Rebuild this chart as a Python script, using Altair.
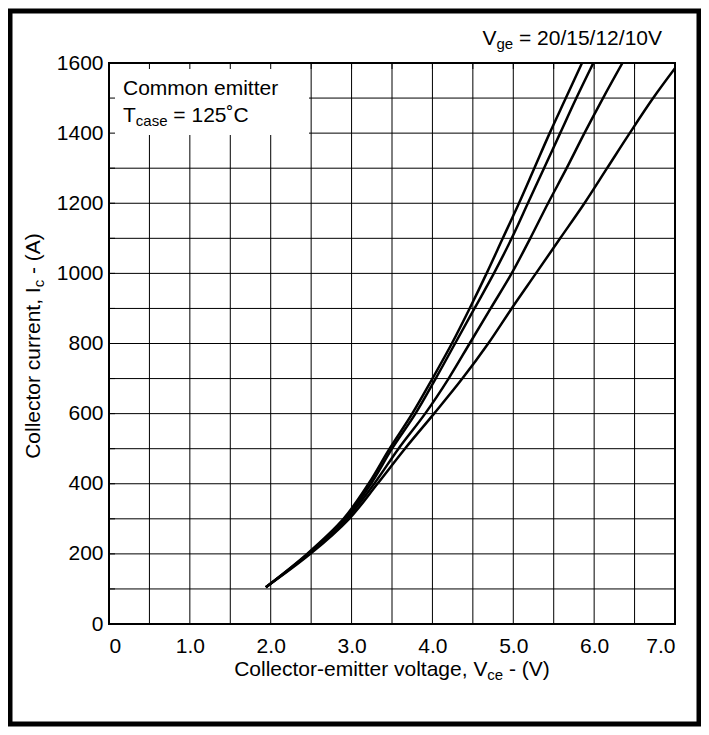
import altair as alt
import pandas as pd

# ---------------- data ----------------
series_names = ["20V", "15V", "12V", "10V"]
current_a = [105, 200, 300, 400, 500, 600, 700, 800, 900, 1000, 1100, 1200, 1300, 1400, 1500, 1600]
current_10 = [105, 200, 300, 400, 500, 600, 700, 800, 900, 1000, 1100, 1200, 1300, 1400, 1500, 1585]
vce_20 = [1.94, 2.45, 2.90, 3.21, 3.47, 3.75, 4.00, 4.24, 4.46, 4.67, 4.87, 5.07, 5.26, 5.45, 5.65, 5.85]
vce_15 = [1.94, 2.46, 2.92, 3.24, 3.50, 3.79, 4.04, 4.28, 4.52, 4.76, 4.98, 5.18, 5.38, 5.58, 5.78, 5.99]
vce_12 = [1.94, 2.47, 2.94, 3.28, 3.58, 3.91, 4.20, 4.46, 4.72, 4.98, 5.21, 5.43, 5.66, 5.88, 6.11, 6.35]
vce_10 = [1.94, 2.49, 2.97, 3.32, 3.66, 4.02, 4.37, 4.69, 4.98, 5.28, 5.58, 5.88, 6.16, 6.44, 6.73, 7.00]

x_tick_values = [0, 1, 2, 3, 4, 5, 6, 7]
x_grid_values = [0.5, 1.0, 1.5, 2.0, 2.5, 3.0, 3.5, 4.0, 4.5, 5.0, 5.5, 6.0, 6.5]
y_tick_values = [0, 200, 400, 600, 800, 1000, 1200, 1400, 1600]
y_grid_values = [100, 200, 300, 400, 500, 600, 700, 800, 900, 1000, 1100, 1200, 1300, 1400, 1500]

rows = []
for name, vs, cs in zip(series_names, [vce_20, vce_15, vce_12, vce_10],
                        [current_a, current_a, current_a, current_10]):
    for k, (v, c) in enumerate(zip(vs, cs)):
        rows.append({"x": v, "y": c, "s": name, "o": k})
curves_df = pd.DataFrame(rows)
xgrid_df = pd.DataFrame({"x": x_grid_values})
ygrid_df = pd.DataFrame({"y": y_grid_values})
one = pd.DataFrame({"a": [0]})

# ---------------- layout ----------------
W, H = 566, 561
FONT = "Liberation Sans"
FS, SFS = 21, 15

AW = {' ': 278, ',': 278, '-': 333, '(': 333, ')': 333, '=': 584, '/': 278, 'A': 667,
      'C': 722, 'I': 278, 'T': 611, 'V': 667, 'a': 556, 'c': 500, 'e': 556, 'g': 556,
      'i': 222, 'l': 222, 'm': 833, 'n': 556, 'o': 556, 'r': 333, 's': 500, 't': 278,
      'u': 556, 'v': 500, '˚': 333}


def tw(s, size):
    return sum(AW.get(ch, 556) for ch in s) * size / 1000.0


xs = alt.Scale(domain=[0, 7], nice=False, zero=False)
ys = alt.Scale(domain=[0, 1600], nice=False, zero=False)
xaxis = alt.Axis(values=x_tick_values, title=None, grid=False, ticks=False, domain=False,
                 labelExpr="datum.value == 0 ? '0' : format(datum.value, '.1f')",
                 labelPadding=11, labelFontSize=FS, labelFont=FONT, labelColor="black")
yaxis = alt.Axis(values=y_tick_values, title=None, grid=False, ticks=False, domain=False,
                 format="d", labelPadding=6, labelFontSize=FS, labelFont=FONT,
                 labelColor="black")


def X(f="x"):
    return alt.X(f, type="quantitative", scale=xs, axis=xaxis)


def Y(f="y"):
    return alt.Y(f, type="quantitative", scale=ys, axis=yaxis)


grid_x = alt.Chart(xgrid_df).mark_rule(color="black", strokeWidth=1).encode(x=X())
grid_y = alt.Chart(ygrid_df).mark_rule(color="black", strokeWidth=1).encode(y=Y())

box = alt.Chart(one).mark_rect(fill="white").encode(
    x=alt.value(0), x2=alt.value(200), y=alt.value(0), y2=alt.value(72))

ticks_top = alt.Chart(xgrid_df).mark_rule(color="black", strokeWidth=1).encode(
    x=X(), y=alt.value(0), y2=alt.value(6))
ticks_left = alt.Chart(ygrid_df).mark_rule(color="black", strokeWidth=1).encode(
    y=Y(), x=alt.value(0), x2=alt.value(6))

curves = alt.Chart(curves_df).mark_line(color="black", strokeWidth=2.5, interpolate="catmull-rom",
                                        clip=True).encode(
    x=X(), y=Y(), detail="s:N", order="o:Q")

border = alt.Chart(one).mark_rect(fillOpacity=0, stroke="black", strokeWidth=2).encode(
    x=alt.value(0), x2=alt.value(W), y=alt.value(0), y2=alt.value(H))

frame = alt.Chart(one).mark_rect(fillOpacity=0, stroke="black", strokeWidth=5).encode(
    x=alt.value(-99), x2=alt.value(590), y=alt.value(-52), y2=alt.value(661))


def txt(s, x, y, size=FS, align="left", angle=0):
    # SVG drops leading spaces: shift the anchor instead
    if align == "left" and s.startswith(" "):
        n = len(s) - len(s.lstrip(" "))
        shift = tw(" " * n, size)
        if angle == 270:
            y -= shift
        else:
            x += shift
        s = s.lstrip(" ")
    return alt.Chart(one).mark_text(text=s, font=FONT, fontSize=size, color="black",
                                    align=align, baseline="alphabetic", angle=angle).encode(
        x=alt.value(x), y=alt.value(y))


texts = []
# annotation box text
texts.append(txt("Common emitter", 14, 32))
tx = 14
texts.append(txt("T", tx, 59))
tx += tw("T", FS)
texts.append(txt("case", tx, 63, SFS))
tx += tw("case", SFS)
texts.append(txt(" = 125˚C", tx, 59))

# Vge label (right aligned)
rx = 553
texts.append(txt("= 20/15/12/10V", rx, -18, align="right"))
rx -= tw(" = 20/15/12/10V", FS)
texts.append(txt("ge", rx, -14, SFS, align="right"))
rx -= tw("ge", SFS)
texts.append(txt("V", rx, -18, align="right"))

# x-axis title
segs = [("Collector-emitter voltage, V", FS, 0), ("ce", SFS, 4), (" - (V)", FS, 0)]
total = sum(tw(s, z) for s, z, _ in segs)
cx = W / 2 - total / 2
for s, z, d in segs:
    texts.append(txt(s, cx, 613 + d, z))
    cx += tw(s, z)

# y-axis title (rotated)
segs = [("Collector current, I", FS, 0), ("c", SFS, 4), (" - (A)", FS, 0)]
total = sum(tw(s, z) for s, z, _ in segs)
cy = 283 + total / 2
for s, z, d in segs:
    texts.append(txt(s, -69 + d, cy, z, angle=270))
    cy -= tw(s, z)

chart = alt.layer(grid_x, grid_y, box, ticks_top, ticks_left, curves, border, frame, *texts).properties(
    width=W, height=H,
    padding={"left": 101, "top": 55, "right": 26, "bottom": 103},
    autosize=alt.AutoSizeParams(type="none"),
    background="white",
).configure_view(stroke=None)

chart.save("out.html", embed_options={"renderer": "svg", "actions": False})
